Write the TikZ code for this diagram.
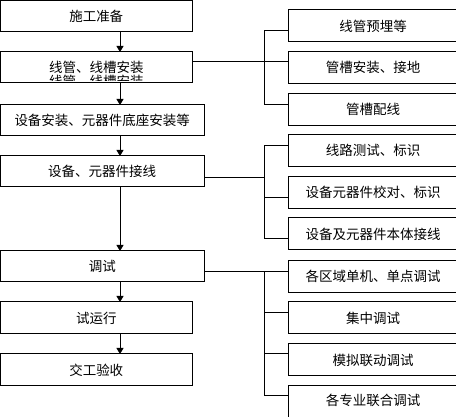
\documentclass[tikz,border=0pt]{standalone}
\usepackage{fontspec}
\newfontfamily\cjk{Noto Sans CJK SC}
\usetikzlibrary{arrows.meta}
\begin{document}
\begin{tikzpicture}[x=1pt,y=-1pt,line width=1pt,
  box/.style={draw,rectangle,anchor=north west,inner sep=0pt,outer sep=0pt,
    font=\cjk\fontsize{13.5}{16}\selectfont},
  lbox/.style={box,minimum width=191.5pt,minimum height=31pt},
  wbox/.style={box,minimum width=203.5pt,minimum height=31pt},
  rbox/.style={box,minimum width=170pt,minimum height=31.5pt},
  arr/.style={-{Triangle[length=6pt,width=7pt]}}]
\useasboundingbox (0,0) rectangle (456,417);
% left column
\node[lbox] (L1) at (0.5,0.5) {施工准备};
\node[lbox] (L2) at (0.5,52) {线管、线槽安装};
\begin{scope}
  \clip (1,75) rectangle (191,80.5);
  \node[font=\cjk\fontsize{13.5}{16}\selectfont,inner sep=0pt] (L2ghost) at ([yshift=-14pt]L2.center) {线管、线槽安装};
\end{scope}
\node[wbox] (L3) at (0.5,105) {设备安装、元器件底座安装等};
\node[wbox] (L4) at (0.5,156) {设备、元器件接线};
\node[wbox] (L5) at (0.5,251) {调试};
\node[lbox,minimum height=32pt] (L6) at (0.5,302) {试运行};
\node[lbox,minimum height=32pt] (L7) at (0.5,354) {交工验收};
% arrows
\coordinate (ax) at (120,0);
\draw[arr] (L1.south -| ax) -- (L2.north -| ax);
\draw[arr] (L2.south -| ax) -- (L3.north -| ax);
\draw[arr] (L3.south -| ax) -- (L4.north -| ax);
\draw[arr] (L4.south -| ax) -- (L5.north -| ax);
\draw[arr] (L5.south -| ax) -- (L6.north -| ax);
\draw[arr] (L6.south -| ax) -- (L7.north -| ax);
% right column
\node[rbox,minimum height=32pt] (R1) at (288,10) {线管预埋等\hspace{20pt}};
\node[rbox] (R2) at (288,52) {管槽安装、接地};
\node[rbox] (R3) at (288,94) {管槽配线};
\node[rbox] (R4) at (288,135) {线路测试、标识};
\node[rbox] (R5) at (288,177) {设备元器件校对、标识};
\node[rbox,minimum height=32pt] (R6) at (288,218) {设备及元器件本体接线};
\node[rbox] (R7) at (288,261) {各区域单机、单点调试};
\node[rbox,minimum height=32pt] (R8) at (288,302) {集中调试};
\node[rbox,minimum height=32pt] (R9) at (288,344) {模拟联动调试};
\node[rbox,minimum height=40pt] (R10) at (288,386) {\raisebox{12pt}{各专业联合调试}};
% group 1
\coordinate (a1) at (264,31);
\coordinate (a2) at (264,62);
\coordinate (a3) at (264,105);
\draw (a1) -- (a3);
\draw (L2.east |- a2) -- (a2);
\draw (a1) -- (R1.west |- a1);
\draw (a2) -- (R2.west |- a2);
\draw (a3) -- (R3.west |- a3);
% group 2
\coordinate (b1) at (264,146);
\coordinate (bi) at (264,178);
\coordinate (b2) at (264,198);
\coordinate (b3) at (264,239);
\draw (b1) -- (b3);
\draw (L4.east |- bi) -- (bi);
\draw (b1) -- (R4.west |- b1);
\draw (b2) -- (R5.west |- b2);
\draw (b3) -- (R6.west |- b3);
% group 3
\coordinate (c1) at (264,272);
\coordinate (c2) at (264,313);
\coordinate (c3) at (264,354);
\coordinate (c4) at (264,396);
\draw (c1) -- (c4);
\draw (L5.east |- c1) -- (c1);
\draw (c1) -- (R7.west |- c1);
\draw (c2) -- (R8.west |- c2);
\draw (c3) -- (R9.west |- c3);
\draw (c4) -- (R10.west |- c4);
\end{tikzpicture}
\end{document}
